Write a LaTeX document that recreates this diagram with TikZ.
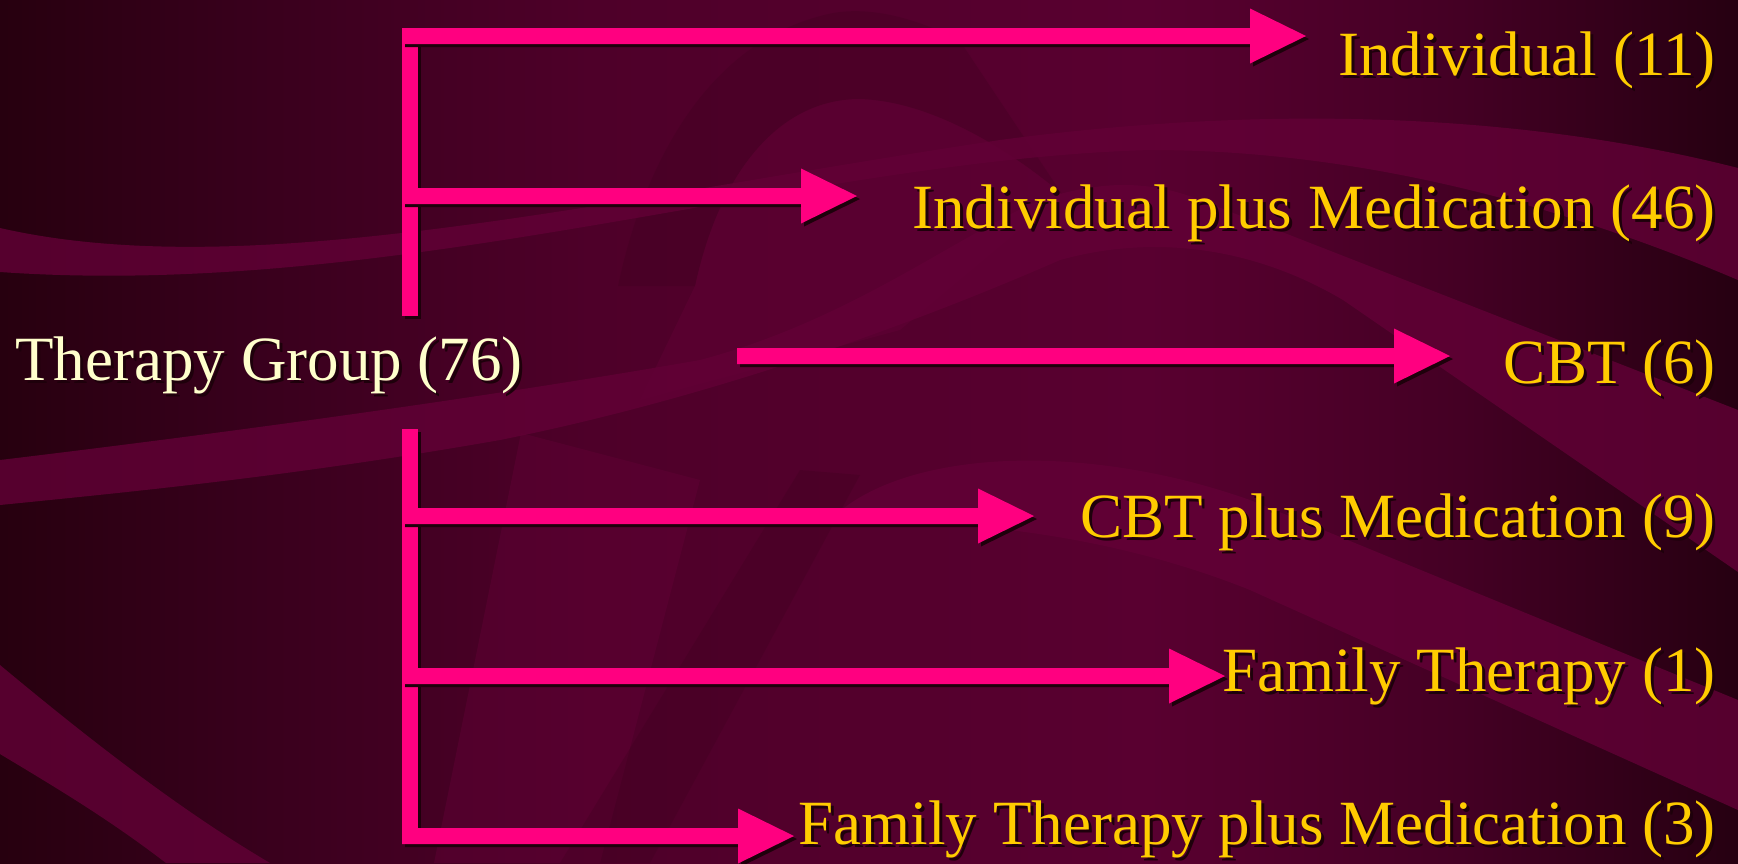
\documentclass[tikz,border=0pt]{standalone}
\usepackage{fontspec}
\setmainfont{Liberation Serif}
\definecolor{pinkA}{HTML}{FF0080}
\definecolor{shad}{HTML}{1E000B}
\definecolor{yel}{HTML}{FFCC00}
\definecolor{cream}{HTML}{FFFFCC}
\definecolor{bg0}{HTML}{27000F}
\definecolor{bg1}{HTML}{38001C}
\definecolor{bg2}{HTML}{4E0029}
\definecolor{bg3}{HTML}{590030}
\definecolor{bg4}{HTML}{440024}
\definecolor{bg5}{HTML}{260011}
\definecolor{bandL}{HTML}{620036}
\definecolor{bandD}{HTML}{3A001C}
\pgfdeclarehorizontalshading{bgshade}{100bp}{color(0bp)=(bg0); color(25bp)=(bg0); color(32bp)=(bg1); color(42bp)=(bg2); color(58bp)=(bg3); color(67bp)=(bg4); color(75bp)=(bg5); color(100bp)=(bg5)}
\tikzset{
  lbl/.style={font=\fontsize{31.5}{36}\selectfont, inner sep=0pt},
  ylbl/.style={lbl, text=yel},
  clbl/.style={lbl, text=cream},
  slbl/.style={lbl, text=shad},
  lightband/.style={fill=bandL, fill opacity=0.8},
  softband/.style={fill=bandL, fill opacity=0.45},
  darkband/.style={fill=bandD, fill opacity=0.25}
}
\newcommand\pinkarrow[4]{%
  \coordinate (#1s) at (#2,#4);
  \coordinate (#1t) at (#3+56,#4);
  \fill[shad, shift={(3,3)}] (#2,#4-8) -- (#3,#4-8) -- (#3,#4-27.5) -- (#3+56,#4) -- (#3,#4+27.5) -- (#3,#4+8) -- (#2,#4+8) -- cycle;
  \fill[pinkA] (#2,#4-8) -- (#3,#4-8) -- (#3,#4-27.5) -- (#3+56,#4) -- (#3,#4+27.5) -- (#3,#4+8) -- (#2,#4+8) -- cycle;
}
\begin{document}
\begin{tikzpicture}[x=0.5pt, y=-0.5pt]
\useasboundingbox (0,0) rectangle (1738,863);
% background
\shade[shading=bgshade] (0,0) rectangle (1738,863);
\begin{scope}
\clip (0,0) rectangle (1738,863);
% middle arches
\fill[softband] (640,400) -- (695,286) .. controls (720,170) and (780,100) .. (858,99)
   .. controls (930,100) and (1010,150) .. (1062,194) -- (900,330) -- cycle;
\fill[darkband] (618,286) .. controls (640,180) and (700,40) .. (833,13)
   .. controls (880,5) and (930,25) .. (960,41)
   -- (1062,194) .. controls (1010,150) and (930,100) .. (858,99)
   .. controls (780,100) and (720,170) .. (695,286) -- cycle;
% upper band (left edge 228-272) rising to the upper right
\fill[lightband] (0,228) .. controls (250,285) and (600,200) .. (1000,140)
   .. controls (1300,100) and (1550,120) .. (1738,168)
   -- (1738,280) .. controls (1550,200) and (1350,150) .. (1150,150)
   .. controls (800,160) and (400,300) .. (0,272) -- cycle;
% middle band (left edge 460-505) rising, then falling to the right
\fill[lightband] (0,460) .. controls (250,430) and (500,395) .. (700,360)
   .. controls (850,320) and (950,240) .. (1040,200)
   .. controls (1100,180) and (1150,180) .. (1200,200)
   -- (1738,410) -- (1738,572) -- (1343,300)
   .. controls (1250,245) and (1150,235) .. (1060,260)
   .. controls (900,330) and (700,400) .. (500,440)
   .. controls (300,475) and (150,490) .. (0,505) -- cycle;
% lower right band
\fill[lightband] (830,520) .. controls (900,450) and (1080,440) .. (1250,500)
   -- (1738,700) -- (1738,810) -- (1250,590)
   .. controls (1100,530) and (950,520) .. (830,520) -- cycle;
% lower left band
\fill[lightband] (0,665) .. controls (90,740) and (180,810) .. (270,863)
   -- (166,863) .. controls (110,820) and (60,790) .. (0,754) -- cycle;
% lower middle stripes
\fill[softband] (434,863) -- (521,433) -- (700,480) -- (600,863) -- cycle;
\fill[darkband] (560,863) -- (800,470) -- (860,475) -- (650,863) -- cycle;
\end{scope}
% vertical bar
\fill[shad] (405,31) rectangle (421,319);
\fill[pinkA] (402,28) rectangle (418,316);
\fill[shad] (405,432) rectangle (421,847);
\fill[pinkA] (402,429) rectangle (418,844);
% arrows
\pinkarrow{a1}{402}{1250}{36}
\pinkarrow{a2}{402}{801}{196}
\pinkarrow{a3}{737}{1394}{356}
\pinkarrow{a4}{402}{978}{516}
\pinkarrow{a5}{402}{1169}{676}
\pinkarrow{a6}{402}{738}{836}
% labels
\node[slbl, anchor=base west] (ts) at (18,383) {Therapy Group (76)};
\node[clbl, anchor=base west] (t) at (15,380) {Therapy Group (76)};
\node[slbl, anchor=base east] (l1s) at (1719,78) {Individual (11)};
\node[ylbl, anchor=base east] (l1) at (1716,75) {Individual (11)};
\node[slbl, anchor=base east] (l2s) at (1719,231.5) {Individual plus Medication (46)};
\node[ylbl, anchor=base east] (l2) at (1716,228.5) {Individual plus Medication (46)};
\node[slbl, anchor=base east] (l3s) at (1719,386) {CBT (6)};
\node[ylbl, anchor=base east] (l3) at (1716,383) {CBT (6)};
\node[slbl, anchor=base east] (l4s) at (1719,540.5) {CBT plus Medication (9)};
\node[ylbl, anchor=base east] (l4) at (1716,537.5) {CBT plus Medication (9)};
\node[slbl, anchor=base east] (l5s) at (1719,694.5) {Family Therapy (1)};
\node[ylbl, anchor=base east] (l5) at (1716,691.5) {Family Therapy (1)};
\node[slbl, anchor=base east] (l6s) at (1719,847) {Family Therapy plus Medication (3)};
\node[ylbl, anchor=base east] (l6) at (1716,844) {Family Therapy plus Medication (3)};
\end{tikzpicture}
\end{document}
